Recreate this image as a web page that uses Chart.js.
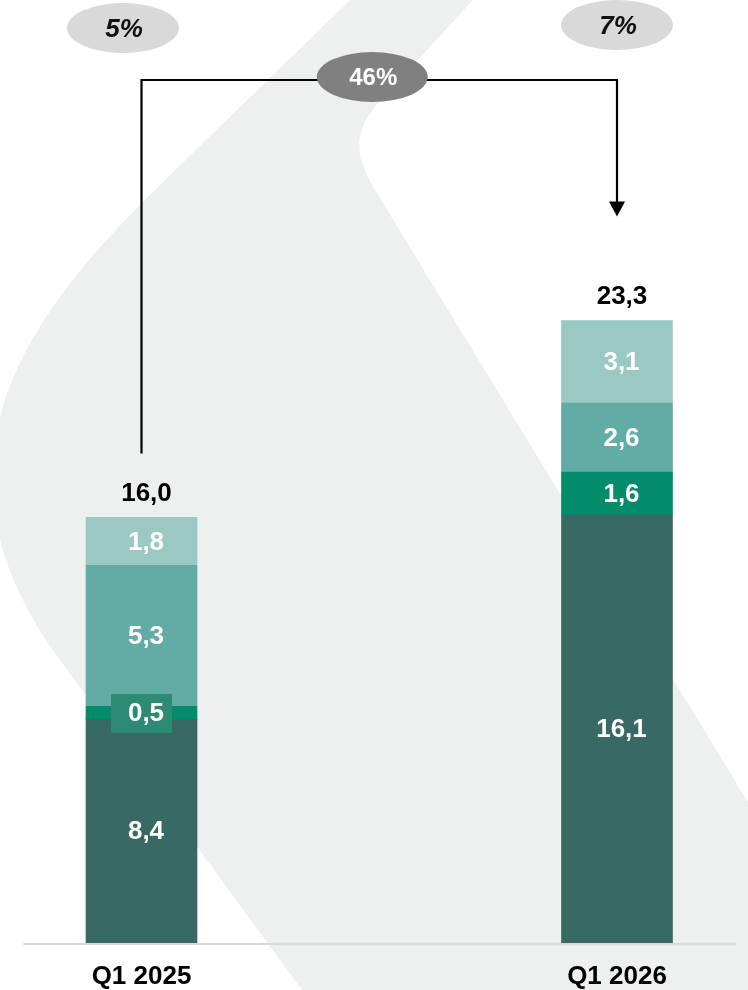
<!DOCTYPE html>
<html>
<head>
<meta charset="utf-8">
<script src="https://cdn.jsdelivr.net/npm/chart.js@4.4.1/dist/chart.umd.min.js"></script>
<style>
  html, body { margin: 0; padding: 0; background: #fff; }
  #wrap { width: 748px; height: 990px; position: relative; }
</style>
</head>
<body>
<div id="wrap"><canvas id="chart"></canvas></div>
<script>
const quarters = ["Q1 2025", "Q1 2026"];
// stacked segments, bottom to top
const seg1 = [8.4, 16.1];
const seg2 = [0.5, 1.6];
const seg3 = [5.3, 2.6];
const seg4 = [1.8, 3.1];
const totals = [16.0, 23.3];
const shares = ["5%", "7%"];
const growth = "46%";

const segColors = ["#396965", "#038c6c", "#63aca5", "#9ac8c3"];
const FONT = "'Liberation Sans', Arial, sans-serif";

const fmt = v => v.toFixed(1).replace(".", ",");

// light grey ribbon shape behind everything
const backdrop = {
    id: "backdrop",
    beforeDraw(chart) {
        const ctx = chart.ctx;
        const sx = chart.width / 748, sy = chart.height / 990;
        const P = (x, y) => [x * sx, y * sy];
        ctx.save();
        ctx.fillStyle = "#fff";
        ctx.fillRect(0, 0, chart.width, chart.height);
        ctx.beginPath();
        ctx.moveTo(...P(350, 0));
        ctx.lineTo(...P(165, 180));
        ctx.bezierCurveTo(...P(31, 310), ...P(-87, 460), ...P(60, 660));
        ctx.lineTo(...P(302, 990));
        ctx.lineTo(...P(748, 990));
        ctx.lineTo(...P(748, 802));
        ctx.lineTo(...P(386, 208));
        ctx.bezierCurveTo(...P(362, 168), ...P(343, 141), ...P(380, 101));
        ctx.lineTo(...P(473, 0));
        ctx.closePath();
        ctx.fillStyle = "#eef0ef";
        ctx.fill();
        ctx.restore();
    }
};

// value labels inside segments, totals on top, baseline
const valueLabels = {
    id: "valueLabels",
    afterDatasetsDraw(chart) {
        const ctx = chart.ctx;
        const xs = chart.scales.x;
        ctx.save();

        // baseline
        const yBase = chart.chartArea.bottom + 1;
        ctx.strokeStyle = "#d9d9d9";
        ctx.lineWidth = 2;
        ctx.beginPath();
        ctx.moveTo(xs.getPixelForValue(0) - 118, yBase);
        ctx.lineTo(xs.getPixelForValue(1) + 119, yBase);
        ctx.stroke();

        ctx.font = `bold 26px ${FONT}`;
        ctx.textAlign = "center";
        ctx.textBaseline = "middle";
        chart.data.datasets.forEach((ds, di) => {
            chart.getDatasetMeta(di).data.forEach((bar, i) => {
                const h = bar.base - bar.y;
                const cy = (bar.y + bar.base) / 2;
                if (h < 30) {
                    ctx.fillStyle = "#2d8b74";
                    ctx.fillRect(bar.x - 30.5, cy - 19, 61, 39);
                }
                ctx.fillStyle = "#fff";
                ctx.fillText(fmt(ds.data[i]), bar.x + 4.5, cy + 1);
            });
        });

        const top = chart.getDatasetMeta(chart.data.datasets.length - 1).data;
        ctx.fillStyle = "#000";
        ctx.textBaseline = "alphabetic";
        top.forEach((bar, i) => {
            ctx.fillText(fmt(totals[i]), bar.x + 5, bar.y - 16.5);
        });
        ctx.restore();
    }
};

function pill(ctx, x, y, rx, ry, fill, text, font, color) {
    ctx.beginPath();
    ctx.ellipse(x, y, rx, ry, 0, 0, Math.PI * 2);
    ctx.fillStyle = fill;
    ctx.fill();
    ctx.fillStyle = color;
    ctx.font = font;
    ctx.textAlign = "center";
    ctx.textBaseline = "middle";
    ctx.fillText(text, x + 1, y + 1.5);
}

// growth arrow and percentage bubbles
const growthArrow = {
    id: "growthArrow",
    afterDraw(chart) {
        const ctx = chart.ctx;
        const top = chart.getDatasetMeta(chart.data.datasets.length - 1).data;
        const b1 = top[0], b2 = top[1];
        const yLine = 80;
        const yTip = b2.y - 104;
        ctx.save();
        ctx.strokeStyle = "#000";
        ctx.lineWidth = 2.2;
        ctx.beginPath();
        ctx.moveTo(b1.x, b1.y - 64);
        ctx.lineTo(b1.x, yLine);
        ctx.lineTo(b2.x, yLine);
        ctx.lineTo(b2.x, yTip - 14);
        ctx.stroke();
        ctx.fillStyle = "#000";
        ctx.beginPath();
        ctx.moveTo(b2.x - 8, yTip - 15);
        ctx.lineTo(b2.x + 8, yTip - 15);
        ctx.lineTo(b2.x, yTip);
        ctx.closePath();
        ctx.fill();

        pill(ctx, b1.x - 18.5, 28, 56, 25, "#d9d9d9", shares[0], `italic bold 26px ${FONT}`, "#111");
        pill(ctx, b2.x, 25, 56, 25, "#d9d9d9", shares[1], `italic bold 26px ${FONT}`, "#111");
        pill(ctx, (b1.x + b2.x) / 2 - 7, 77, 55.5, 25, "#808080", growth, `bold 24px ${FONT}`, "#fff");
        ctx.restore();
    }
};

new Chart(document.getElementById("chart"), {
    type: "bar",
    data: {
        labels: quarters,
        datasets: [seg1, seg2, seg3, seg4].map((d, i) => ({
            data: d,
            backgroundColor: segColors[i],
            borderWidth: 0,
            barThickness: 111,
            clip: false
        }))
    },
    options: {
        responsive: true,
        maintainAspectRatio: false,
        animation: false,
        layout: { padding: { left: 141.5, right: 131, top: 145, bottom: 0 } },
        plugins: {
            legend: { display: false },
            tooltip: { enabled: false }
        },
        scales: {
            x: {
                stacked: true,
                offset: false,
                grid: { display: false, drawTicks: false },
                border: { display: false },
                afterFit(scale) { scale.height = 47; },
                ticks: {
                    color: "#000",
                    maxRotation: 0,
                    padding: 18,
                    font: { family: FONT, size: 26, weight: "bold" }
                }
            },
            y: { stacked: true, display: false, min: 0, max: 30 }
        }
    },
    plugins: [backdrop, valueLabels, growthArrow]
});
</script>
</body>
</html>
